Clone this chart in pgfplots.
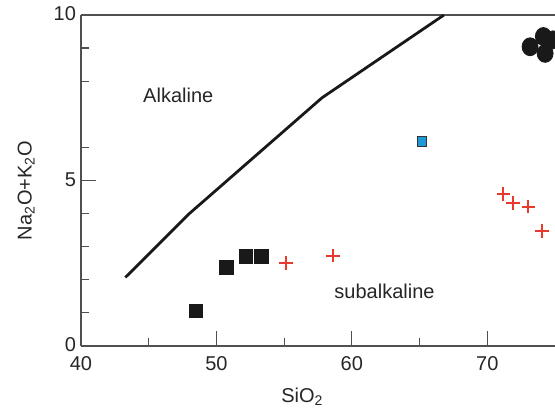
\documentclass[border=0pt]{standalone}
\usepackage{fontspec}
\setmainfont{Liberation Sans}
\usepackage{pgfplots}
\pgfplotsset{compat=1.18}
\definecolor{crossred}{HTML}{E8392C}
\definecolor{sqblue}{HTML}{1E9AD6}
\definecolor{axgray}{HTML}{505050}

\begin{document}
\begin{tikzpicture}
\useasboundingbox (-40.5pt,-32pt) rectangle (237pt,173pt);
\begin{axis}[
    scale only axis,
    width=237pt,
    height=165.5pt,
    xmin=40, xmax=75,
    ymin=0, ymax=10,
    axis x line*=box,
    axis y line*=left,
    axis line style={axgray, line width=0.7pt},
    xtick={40,50,60,70},
    minor xtick={45,55,65},
    ytick={0,5,10},
    minor ytick={1,2,3,4,6,8,9},
    xtick pos=bottom,
    ytick pos=left,
    tick align=inside,
    major tick length=7.5pt,
    minor tick length=4pt,
    tick style={axgray, line width=0.6pt},
    /pgf/number format/assume math mode=true,
    tick label style={font=\fontsize{10}{12}\selectfont, text=black!85},
    yticklabel style={xshift=1pt, yshift=0.5pt},
    xticklabel style={yshift=-1.5pt},
    xlabel={SiO\textsubscript{2}},
    ylabel={Na\textsubscript{2}O+K\textsubscript{2}O},
    every axis x label/.style={at={(axis description cs:0.467,0)}, anchor=north,
        yshift=-21pt, inner sep=0pt, font=\fontsize{10}{12}\selectfont, text=black!85},
    every axis y label/.style={at={(axis description cs:0,0.47)}, anchor=south,
        rotate=90, yshift=23pt, inner sep=0pt, font=\fontsize{10}{12}\selectfont, text=black!85},
    clip=true,
]

% boundary line alkaline / subalkaline
\addplot[black!90, line width=1.4pt] coordinates {
    (43.27,2.07) (48.0,4.0) (57.8,7.5) (66.8,10.0)
};

% black squares
\addplot[only marks, mark=square*, mark size=3.4pt, black!90] coordinates {
    (48.49,1.06) (50.72,2.38) (52.18,2.70) (53.31,2.70)
};

% red crosses
\addplot[only marks, mark=+, mark size=3.4pt, crossred, line width=1pt] coordinates {
    (55.13,2.50) (58.60,2.73) (71.19,4.60) (71.88,4.32) (73.03,4.21) (74.02,3.48)
};

% blue square
\addplot[only marks, mark=square*, mark size=2.4pt,
    mark options={draw=black!80, fill=sqblue, line width=0.4pt}] coordinates {
    (65.17,6.18)
};

% black circles
\addplot[only marks, mark=*, mark size=4pt, black!90,
    mark options={yscale=1.12}] coordinates {
    (73.16,9.04) (74.14,9.35) (74.27,8.84) (74.86,9.25)
};

\node[font=\fontsize{10}{12}\selectfont, text=black!85] at (axis cs:47.18,7.58) {Alkaline};
\node[font=\fontsize{10}{12}\selectfont, text=black!85] at (axis cs:62.41,1.65) {subalkaline};

\end{axis}
\end{tikzpicture}
\end{document}
